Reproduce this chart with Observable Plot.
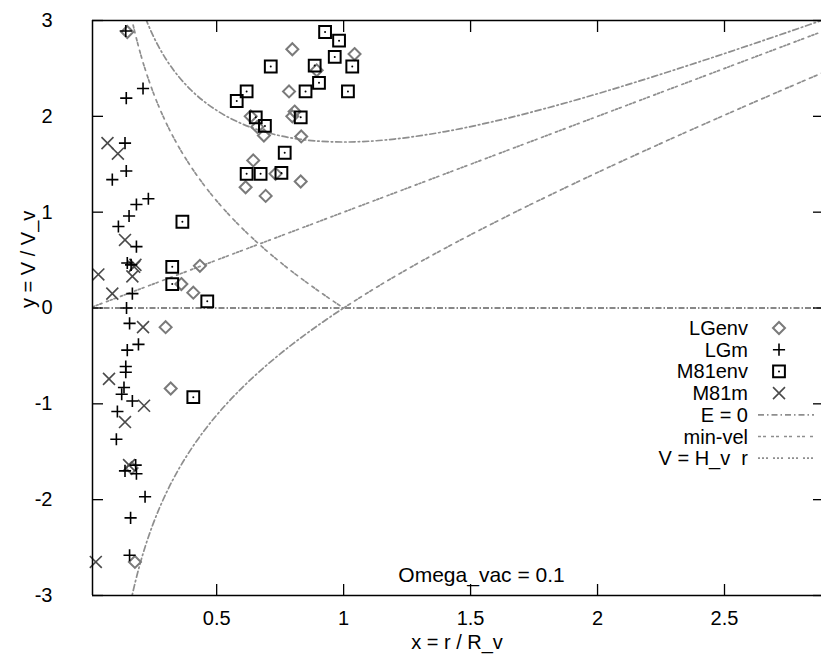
<!DOCTYPE html>
<html><head><meta charset="utf-8">
<script src="https://cdn.jsdelivr.net/npm/d3@7"></script>
<script src="https://cdn.jsdelivr.net/npm/@observablehq/plot@0.6"></script>
<style>
html,body{margin:0;padding:0;background:#fff;overflow:hidden}
#chart{width:821px;height:660px}
svg{display:block}
</style></head><body><div id="chart"></div>
<script>
// ---- axis setup ----
const xTicks = [0.5, 1, 1.5, 2, 2.5];
const yTicks = [-3, -2, -1, 0, 1, 2, 3];
const xDomain = [0.011, 2.882];
const yDomain = [-3, 3];
const xTitle = "x = r / R_v";
const yTitle = "y = V / V_v";
const note = [{x: 1.543, y: -2.79, text: "Omega_vac = 0.1"}];

// ---- data points [x, y] ----
const lgenv = [[0.148,2.88],[0.798,2.70],[1.043,2.65],[0.894,2.48],[0.785,2.26],[0.634,2.0],[0.66,1.89],[0.686,1.80],[0.807,2.05],[0.798,2.0],[0.833,1.79],[0.644,1.54],[0.732,1.40],[0.831,1.32],[0.614,1.26],[0.693,1.17],[0.434,0.44],[0.361,0.25],[0.408,0.16],[0.299,-0.2],[0.319,-0.84],[0.165,-1.67],[0.178,-2.65]];
const lgm = [[0.142,2.89],[0.21,2.29],[0.144,2.19],[0.139,1.72],[0.144,1.43],[0.089,1.34],[0.231,1.14],[0.184,1.08],[0.155,0.96],[0.113,0.85],[0.184,0.64],[0.148,0.47],[0.163,0.45],[0.168,0.15],[0.145,0.0],[0.157,-0.16],[0.192,-0.38],[0.148,-0.44],[0.142,-0.61],[0.142,-0.67],[0.135,-0.83],[0.126,-0.9],[0.168,-0.97],[0.109,-1.08],[0.105,-1.37],[0.181,-1.64],[0.139,-1.70],[0.184,-1.73],[0.218,-1.97],[0.161,-2.19],[0.157,-2.58]];
const m81env = [[0.927,2.88],[0.982,2.79],[0.965,2.62],[0.713,2.52],[0.886,2.53],[1.034,2.52],[0.903,2.35],[0.85,2.26],[1.017,2.26],[0.618,2.26],[0.579,2.16],[0.654,1.99],[0.69,1.90],[0.831,1.99],[0.768,1.62],[0.618,1.40],[0.673,1.40],[0.755,1.41],[0.365,0.9],[0.325,0.43],[0.325,0.25],[0.463,0.07],[0.408,-0.93]];
const m81m = [[0.07,1.72],[0.111,1.61],[0.139,0.71],[0.18,0.45],[0.175,0.43],[0.034,0.35],[0.168,0.33],[0.089,0.15],[0.21,-0.2],[0.076,-0.74],[0.214,-1.02],[0.139,-1.19],[0.155,-1.64],[0.024,-2.65]];

// ---- model curves [x, y] ----
const e0Curve = [[0.22,3.023],[0.23,2.958],[0.25,2.839],[0.27,2.735],[0.3,2.599],[0.35,2.416],[0.4,2.272],[0.5,2.062],[0.6,1.922],[0.7,1.830],[0.8,1.772],[0.9,1.741],[1.0,1.732],[1.1,1.740],[1.2,1.763],[1.4,1.841],[1.6,1.952],[1.8,2.086],[2.0,2.236],[2.2,2.398],[2.4,2.568],[2.6,2.744],[2.8,2.925],[2.9,3.017]];
const minVelUpperLeft = [[0.16,3.086],[0.165,3.025],[0.17,2.965],[0.18,2.854],[0.2,2.653],[0.22,2.478],[0.25,2.25],[0.3,1.938],[0.35,1.684],[0.4,1.47],[0.45,1.283],[0.5,1.118],[0.55,0.969],[0.6,0.833],[0.65,0.707],[0.7,0.589],[0.75,0.479],[0.8,0.374],[0.85,0.275],[0.9,0.18],[0.95,0.088],[1.0,0]];
const minVelLowerLeft = [[0.16,-3.086],[0.165,-3.025],[0.17,-2.965],[0.18,-2.854],[0.2,-2.653],[0.22,-2.478],[0.25,-2.25],[0.3,-1.938],[0.35,-1.684],[0.4,-1.47],[0.45,-1.283],[0.5,-1.118],[0.55,-0.969],[0.6,-0.833],[0.65,-0.707],[0.7,-0.589],[0.75,-0.479],[0.8,-0.374],[0.85,-0.275],[0.9,-0.18],[0.95,-0.088],[1.0,0]];
const minVelUpperRight = [[1.0,0],[1.1,0.168],[1.2,0.327],[1.4,0.624],[1.6,0.9],[1.8,1.162],[2.0,1.414],[2.2,1.658],[2.4,1.896],[2.6,2.128],[2.8,2.357],[2.9,2.47]];
const hubbleLine = [[0.011,0.011],[2.9,2.9]];

// ---- legend ----
const legendLabels = ["LGenv","LGm","M81env","M81m","E = 0","min-vel","V = H_v  r"];

const FONT = "'Liberation Sans', Arial, Helvetica, sans-serif";
const curveGray = "#8e8e8e";
const dashE0 = "6,3,1.5,3";
const dashMin = "3,2,3,5";
const dashHub = "2,2,2,2,2,5";

const X = d => d[0], Y = d => d[1];

const plot = Plot.plot({
  width: 821,
  height: 660,
  marginLeft: 92,
  marginRight: 0,
  marginTop: 20,
  marginBottom: 65,
  x: {domain: xDomain},
  y: {domain: yDomain},
  style: {fontFamily: FONT, background: "#fff", color: "#000"},
  marks: [
    // curves
    Plot.ruleY([0], {stroke: "#111", strokeWidth: 1.2, strokeDasharray: "6,2,1.5,2"}),
    Plot.line(e0Curve, {x: X, y: Y, stroke: curveGray, strokeWidth: 1.7, strokeDasharray: dashE0, curve: "monotone-x", clip: true}),
    Plot.line(minVelUpperLeft, {x: X, y: Y, stroke: curveGray, strokeWidth: 1.7, strokeDasharray: dashMin, curve: "monotone-x", clip: true}),
    Plot.line(minVelLowerLeft, {x: X, y: Y, stroke: curveGray, strokeWidth: 1.7, strokeDasharray: dashE0, curve: "monotone-x", clip: true}),
    Plot.line(minVelUpperRight, {x: X, y: Y, stroke: curveGray, strokeWidth: 1.7, strokeDasharray: dashMin, curve: "monotone-x", clip: true}),
    Plot.line(hubbleLine, {x: X, y: Y, stroke: curveGray, strokeWidth: 1.7, strokeDasharray: dashHub, clip: true}),
    // points
    Plot.dot(lgenv, {x: X, y: Y, symbol: "diamond2", r: 5.4, stroke: "#7a7a7a", strokeWidth: 2, fill: "none"}),
    Plot.dot(m81env, {x: X, y: Y, symbol: "square2", r: 7.5, stroke: "#000", strokeWidth: 2, fill: "none"}),
    Plot.dot(m81env, {x: X, y: Y, r: 1, fill: "#000", stroke: "none"}),
    Plot.dot(m81m, {x: X, y: Y, symbol: "times", r: 5.5, stroke: "#4a4a4a", strokeWidth: 1.6}),
    Plot.dot(lgm, {x: X, y: Y, symbol: "plus", r: 4, stroke: "#000", strokeWidth: 1.6}),
    // frame (left, top, bottom)
    Plot.ruleX([xDomain[0]], {stroke: "#000", strokeWidth: 1.5}),
    Plot.ruleY([yDomain[0], yDomain[1]], {stroke: "#000", strokeWidth: 1.5}),
    // inward ticks
    Plot.axisX({anchor: "bottom", ticks: xTicks, tickSize: -11, fill: "none", strokeWidth: 1.3, label: null}),
    Plot.axisX({anchor: "top", ticks: xTicks, tickSize: -11, fill: "none", strokeWidth: 1.3, label: null}),
    Plot.axisY({anchor: "left", ticks: yTicks, tickSize: -11, fill: "none", strokeWidth: 1.3, label: null}),
    Plot.axisY({anchor: "right", ticks: yTicks, tickSize: -9, fill: "none", strokeWidth: 1.3, label: null}),
    // tick labels
    Plot.axisX({anchor: "bottom", ticks: xTicks, tickSize: 0, tickPadding: 15, stroke: "none", fontSize: 20, tickFormat: d => String(d), label: null}),
    Plot.axisY({anchor: "left", ticks: yTicks, tickSize: 0, tickPadding: 40, stroke: "none", fontSize: 20, tickFormat: d => String(d), label: null}),
    // titles
    Plot.text([xTitle], {frameAnchor: "bottom", text: d => d, dy: 53, fontSize: 20}),
    Plot.text([yTitle], {frameAnchor: "left", text: d => d, dx: -64, rotate: -90, fontSize: 20}),
    Plot.text(note, {x: "x", y: "y", text: "text", fontSize: 21})
  ]
});

document.getElementById("chart").appendChild(plot);

// legend, drawn inside the plot area (gnuplot-style key)
const svg = d3.select(plot);
const g = svg.append("g").attr("font-family", FONT).attr("font-size", 20);
const textRight = 748, symX = 779, lineX1 = 758, lineX2 = 814, row0 = 328, rowStep = 21.7;
const sym = (type, r) => d3.symbol(type, r * r * Math.PI)();
legendLabels.forEach((label, i) => {
  const y = row0 + i * rowStep;
  g.append("text").attr("x", textRight).attr("y", y).attr("dy", "0.35em").attr("text-anchor", "end").attr("fill", "#000").text(label);
  const s = g.append("g").attr("transform", `translate(${symX},${y})`);
  if (i === 0) s.append("path").attr("d", sym(d3.symbolDiamond2, 5.4)).attr("fill", "none").attr("stroke", "#7a7a7a").attr("stroke-width", 2);
  if (i === 1) s.append("path").attr("d", sym(d3.symbolPlus, 4)).attr("fill", "none").attr("stroke", "#000").attr("stroke-width", 1.6);
  if (i === 2) {
    s.append("path").attr("d", sym(d3.symbolSquare2, 7.5)).attr("fill", "none").attr("stroke", "#000").attr("stroke-width", 2);
    s.append("circle").attr("r", 1).attr("fill", "#000");
  }
  if (i === 3) s.append("path").attr("d", sym(d3.symbolTimes, 5.5)).attr("fill", "none").attr("stroke", "#4a4a4a").attr("stroke-width", 1.6);
  if (i >= 4) {
    const dash = [dashE0, dashMin, dashHub][i - 4];
    g.append("line").attr("x1", lineX1).attr("x2", lineX2).attr("y1", y).attr("y2", y)
      .attr("stroke", curveGray).attr("stroke-width", 1.7).attr("stroke-dasharray", dash);
  }
});
</script></body></html>
